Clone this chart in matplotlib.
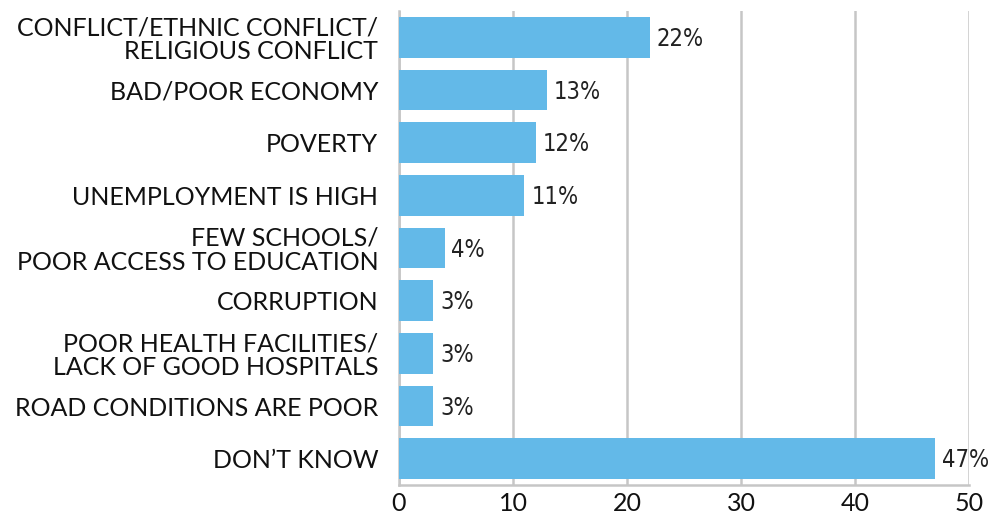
import matplotlib
matplotlib.use("Agg")
import matplotlib.pyplot as plt

categories = [
    "CONFLICT/ETHNIC CONFLICT/\nRELIGIOUS CONFLICT",
    "BAD/POOR ECONOMY",
    "POVERTY",
    "UNEMPLOYMENT IS HIGH",
    "FEW SCHOOLS/\nPOOR ACCESS TO EDUCATION",
    "CORRUPTION",
    "POOR HEALTH FACILITIES/\nLACK OF GOOD HOSPITALS",
    "ROAD CONDITIONS ARE POOR",
    "DON\u2019T KNOW",
]
values = [22, 13, 12, 11, 4, 3, 3, 3, 47]
x_ticks = [0, 10, 20, 30, 40, 50]

bar_color = "#63B9E8"
grid_color = "#C6C6C6"
label_font = "Lato"

fig = plt.figure(figsize=(9.9, 5.15), dpi=100)
ax = fig.add_axes([399 / 990, 1 - 485 / 515, 570 / 990, 474 / 515])

y = list(range(len(categories)))
ax.barh(y, values, height=0.77, color=bar_color, zorder=3)

# percentage labels just past the end of each bar
for yi, v in zip(y, values):
    ax.text(v + 0.6, yi + 0.03, f"{v}%", va="center", ha="left",
            fontsize=17, family="DejaVu Sans", stretch="condensed",
            color="#222222", zorder=4)

ax.set_xlim(0, 50)
ax.set_ylim(len(categories) - 0.5, -0.5)
ax.set_xticks(x_ticks)
ax.set_xticklabels([str(t) for t in x_ticks], fontsize=18, family=label_font)
ax.set_yticks(y)
ax.set_yticklabels(categories, fontsize=18, family=label_font,
                   linespacing=1.05)

ax.grid(axis="x", color=grid_color, linewidth=1.8, zorder=0)
for side in ("top", "right"):
    ax.spines[side].set_visible(False)
for side in ("left", "bottom"):
    ax.spines[side].set_color(grid_color)
    ax.spines[side].set_linewidth(1.8)
ax.tick_params(axis="both", length=0, colors="#111111")
ax.tick_params(axis="y", pad=15)
ax.tick_params(axis="x", pad=5)

fig.savefig("out.png", dpi=100)
